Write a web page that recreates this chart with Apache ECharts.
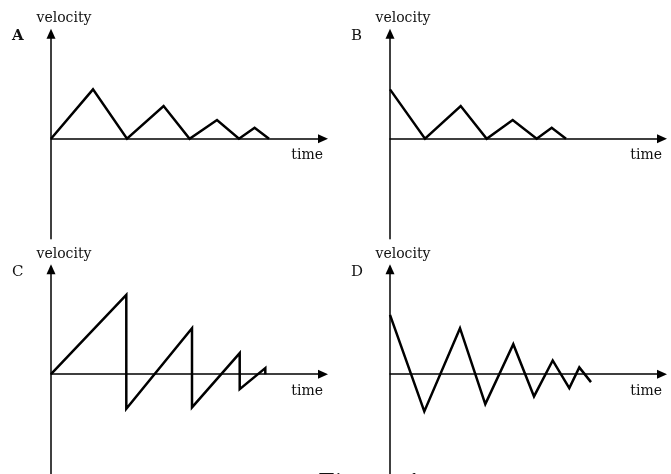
<!DOCTYPE html>
<html>
<head>
<meta charset="utf-8">
<script src="https://cdn.jsdelivr.net/npm/echarts@6/dist/echarts.min.js"></script>
<style>
html,body{margin:0;padding:0;background:#fff;}
#chart{width:671px;height:474px;}
</style>
</head>
<body>
<div id="chart"></div>
<script>
// Panel letters and axis names
const panelLetters = ['A', 'B', 'C', 'D'];
const yAxisName = 'velocity';
const xAxisName = 'time';
const caption = 'Figure 1';

// Panel A (time, velocity)
const timeA = [0, 4.2, 7.6, 11.26, 13.86, 16.6, 18.8, 20.36, 21.8];
const velA  = [0, 4.93, 0, 3.27, 0, 1.87, 0, 1.1, 0];
// Panel B
const timeB = [0, 3.5, 7.07, 9.67, 12.27, 14.67, 16.17, 17.6];
const velB  = [4.93, 0, 3.27, 0, 1.87, 0, 1.1, 0];
// Panel C
const timeC = [0, 7.53, 7.53, 14.1, 14.1, 18.87, 18.87, 21.43, 21.43];
const velC  = [0, 7.93, -3.47, 4.6, -3.33, 2.1, -1.5, 0.6, 0];
// Panel D
const timeD = [0, 3.43, 7.0, 9.53, 12.33, 14.4, 16.27, 17.93, 18.93, 20.1];
const velD  = [5.93, -3.73, 4.6, -3.0, 3.0, -2.23, 1.37, -1.4, 0.67, -0.8];

const panels = [
  {t: timeA, v: velA, left: 51, top: 33.7, letterX: 12, letterBold: true},
  {t: timeB, v: velB, left: 390, top: 33.7, letterX: 351, letterBold: false},
  {t: timeC, v: velC, left: 51, top: 269.3, letterX: 12, letterBold: false},
  {t: timeD, v: velD, left: 390, top: 269.3, letterX: 351, letterBold: false}
];

const FONT = '"DejaVu Serif", serif';
const grid = [], xAxis = [], yAxis = [], series = [], graphic = [];

panels.forEach((p, i) => {
  grid.push({left: p.left, top: p.top, width: 272, height: 205});
  xAxis.push({
    gridIndex: i, type: 'value', min: 0, max: 27.2,
    name: xAxisName, nameLocation: 'end', nameGap: 0,
    nameTextStyle: {fontFamily: FONT, fontSize: 14, color: '#111', align: 'right', verticalAlign: 'top', padding: [10, 0, 0, 0]},
    axisLine: {show: true, onZero: true, symbol: ['none', 'triangle'], symbolSize: [9, 10], lineStyle: {color: '#000', width: 1.5}},
    axisTick: {show: false}, axisLabel: {show: false}, splitLine: {show: false}
  });
  yAxis.push({
    gridIndex: i, type: 'value', min: -10, max: 10.5,
    name: yAxisName, nameLocation: 'end', nameGap: 8,
    nameTextStyle: {fontFamily: FONT, fontSize: 14, color: '#111', align: 'center', padding: [0, 0, 0, 26]},
    axisLine: {show: true, onZero: true, symbol: ['none', 'triangle'], symbolSize: [9, 10], lineStyle: {color: '#000', width: 1.5}},
    axisTick: {show: false}, axisLabel: {show: false}, splitLine: {show: false}
  });
  series.push({
    type: 'line', xAxisIndex: i, yAxisIndex: i,
    data: p.t.map((t, k) => [t, p.v[k]]),
    symbol: 'none', silent: true,
    lineStyle: {color: '#000', width: 2.5, join: 'miter'}
  });
  graphic.push({
    type: 'text', left: p.letterX, top: p.top - 5,
    style: {text: panelLetters[i], font: (p.letterBold ? 'bold ' : '') + '15px ' + FONT, fill: '#111'}
  });
});

graphic.push({
  type: 'text', left: 318, top: 473,
  style: {text: caption, font: '24px ' + FONT, fill: '#111'}
});

const chart = echarts.init(document.getElementById('chart'), null, {renderer: 'canvas'});
chart.setOption({
  animation: false,
  backgroundColor: '#fff',
  grid, xAxis, yAxis, series, graphic
});
</script>
</body>
</html>
